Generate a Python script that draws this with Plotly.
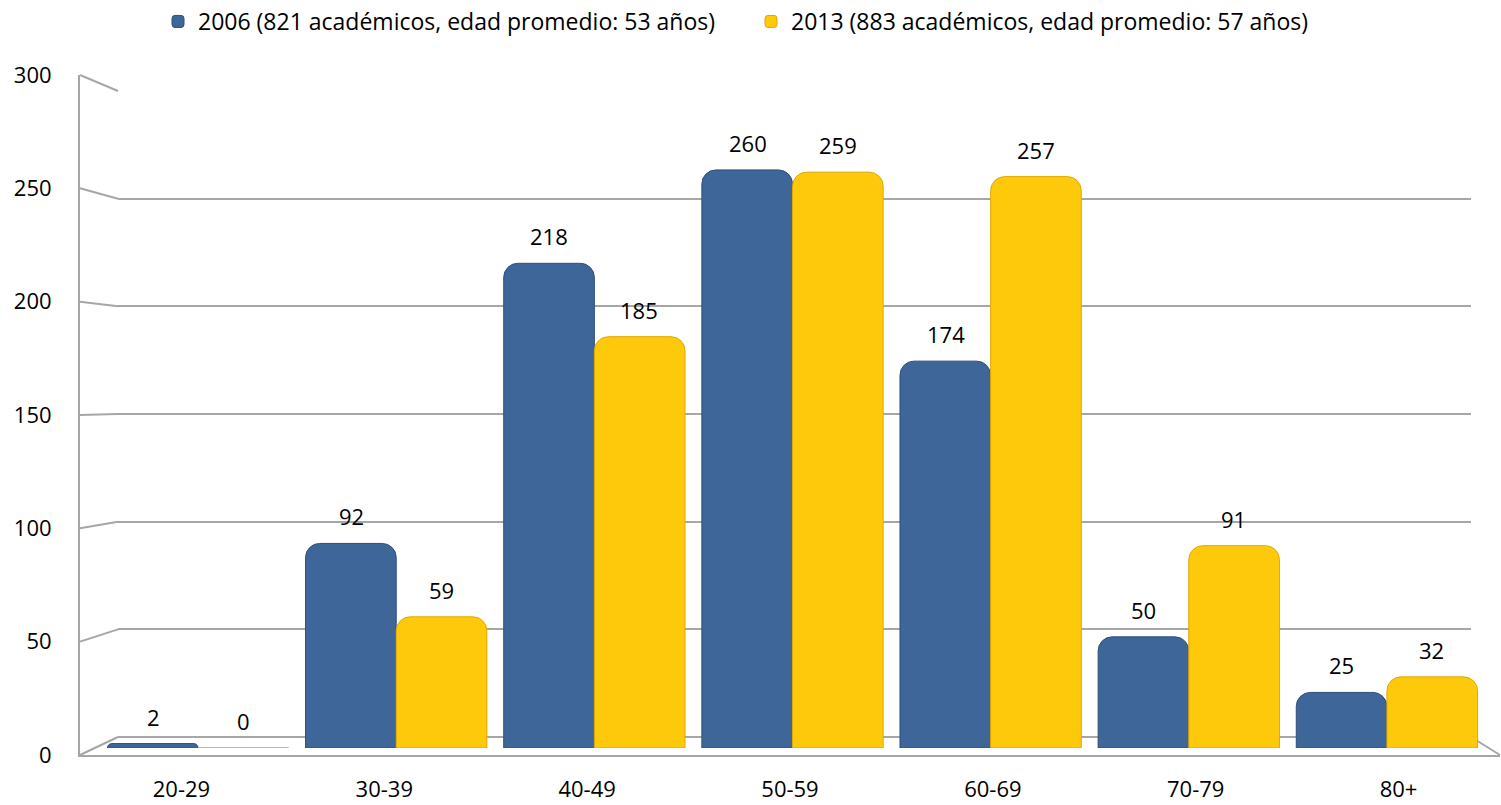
import plotly.graph_objects as go

categories = ["20-29", "30-39", "40-49", "50-59", "60-69", "70-79", "80+"]
series_2006 = [2, 92, 218, 260, 174, 50, 25]
series_2013 = [0, 59, 185, 259, 257, 91, 32]
name_2006 = "2006 (821 académicos, edad promedio: 53 años)"
name_2013 = "2013 (883 académicos, edad promedio: 57 años)"
y_ticks = [0, 50, 100, 150, 200, 250, 300]

W, H = 1501, 805
FONT = "Open Sans, Lato, sans-serif"
GRID = "#A6A6A6"
BLUE = "#3E6698"
YELLOW = "#FFC90B"


def px_x(p):
    return p / W


def px_y(p):
    return 1 - p / H


# geometry of the pseudo-3D box (pixels)
FRONT_L, FRONT_R, FRONT_B, FRONT_T = 80, 1500, 755, 75
BACK_L, BACK_R, BACK_B, BACK_T = 118, 1471, 737, 91
BAR_L, BAR_R, BAR_B, BAR_T = 99, 1486, 748, 81
YMAX = 300


def front_y(v):
    return FRONT_B - (FRONT_B - FRONT_T) * v / YMAX


def back_y(v):
    return BACK_B - (BACK_B - BACK_T) * v / YMAX


fig = go.Figure()

# back wall subplot (grid) -> xy
fig.add_trace(go.Scatter(x=[0, 1], y=[None, None], xaxis="x", yaxis="y",
                         showlegend=False, hoverinfo="skip"))
# front axes (labels) -> x2y2
fig.add_trace(go.Scatter(x=[0, 1], y=[None, None], xaxis="x2", yaxis="y2",
                         showlegend=False, hoverinfo="skip"))
# bars -> x3y3
fig.add_trace(go.Bar(x=categories, y=series_2006, name=name_2006,
                     xaxis="x3", yaxis="y3",
                     marker=dict(color=BLUE, cornerradius=14,
                                 line=dict(color="#2E4F7A", width=1))))
fig.add_trace(go.Bar(x=categories, y=series_2013, name=name_2013,
                     xaxis="x3", yaxis="y3",
                     marker=dict(color=YELLOW, cornerradius=14,
                                 line=dict(color="#E0A800", width=1))))

annotations = []
for vals, shift in ((series_2006, -45), (series_2013, 45)):
    for c, v in zip(categories, vals):
        annotations.append(dict(x=c, y=v, xref="x3", yref="y3", text=str(v),
                                showarrow=False, xshift=shift, yshift=27,
                                font=dict(family=FONT, size=22, color="#000")))

shapes = []
# left diagonals from front wall edge to back wall
for v in y_ticks:
    shapes.append(dict(type="line", xref="paper", yref="paper",
                       x0=px_x(FRONT_L), y0=px_y(front_y(v)),
                       x1=px_x(BACK_L), y1=px_y(back_y(v)),
                       line=dict(color=GRID, width=2), layer="below"))
# right floor diagonal
shapes.append(dict(type="line", xref="paper", yref="paper",
                   x0=px_x(BACK_R), y0=px_y(back_y(0)),
                   x1=px_x(FRONT_R), y1=px_y(front_y(0)),
                   line=dict(color=GRID, width=2), layer="below"))

fig.update_layout(
    width=W, height=H,
    margin=dict(l=0, r=0, t=0, b=0, autoexpand=False),
    paper_bgcolor="white", plot_bgcolor="rgba(0,0,0,0)",
    font=dict(family=FONT, size=22, color="#000"),
    barmode="group", bargap=0.085, bargroupgap=0,
    showlegend=True,
    legend=dict(orientation="h", x=px_x(158), xanchor="left", y=1.0, yanchor="top",
                font=dict(family=FONT, size=23), traceorder="normal",
                itemwidth=30, entrywidth=548, entrywidthmode="pixels"),
    xaxis=dict(domain=[px_x(BACK_L), px_x(BACK_R)], range=[0, 1], visible=False,
               anchor="y"),
    yaxis=dict(domain=[px_y(BACK_B), px_y(BACK_T)], range=[0, YMAX], anchor="x",
               tickvals=y_ticks, showticklabels=False, ticks="",
               showgrid=True, gridcolor=GRID, gridwidth=2,
               zeroline=True, zerolinecolor=GRID, zerolinewidth=2, showline=False),
    xaxis2=dict(domain=[px_x(FRONT_L), px_x(FRONT_R)], range=[-0.5, len(categories) - 0.5],
                anchor="y2", tickvals=list(range(len(categories))), ticktext=categories,
                showgrid=False, zeroline=False, showline=True, linecolor=GRID, linewidth=2,
                ticks="outside", ticklen=14, tickcolor="rgba(0,0,0,0)",
                tickfont=dict(family=FONT, size=22)),
    yaxis2=dict(domain=[px_y(FRONT_B), px_y(FRONT_T)], range=[0, YMAX], anchor="x2",
                tickvals=y_ticks, showgrid=False, zeroline=False,
                showline=True, linecolor=GRID, linewidth=2,
                ticks="outside", ticklen=22, tickcolor="rgba(0,0,0,0)",
                tickfont=dict(family=FONT, size=22)),
    xaxis3=dict(domain=[px_x(BAR_L), px_x(BAR_R)], type="category",
                categoryarray=categories, anchor="y3", visible=False),
    yaxis3=dict(domain=[px_y(BAR_B), px_y(BAR_T)], range=[0, YMAX], anchor="x3",
                visible=False),
    annotations=annotations,
    shapes=shapes,
)

fig.write_html("out.html", config={"displayModeBar": False},
               post_script="document.body.style.margin='0';document.body.style.padding='0';")
